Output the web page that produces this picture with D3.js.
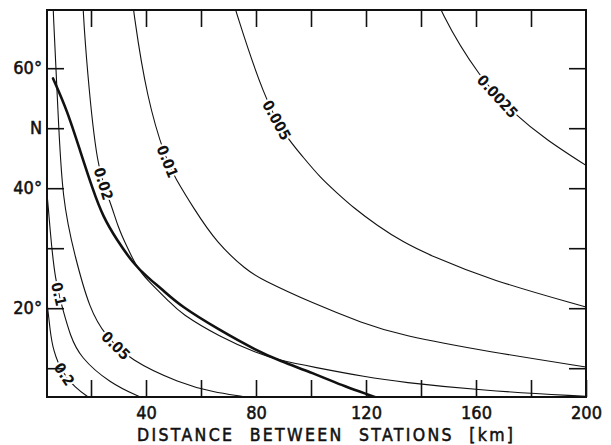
<!DOCTYPE html>
<html>
<head>
<meta charset="utf-8">
<script src="https://cdn.jsdelivr.net/npm/d3@7"></script>
<style>
  body { margin: 0; background: #fff; }
  svg text { font-family: "DejaVu Sans Condensed", "DejaVu Sans", sans-serif; fill: #111; }
</style>
</head>
<body>
<div id="chart"></div>
<script>
//******************************************************************************
//**  data (distance in km, latitude in degrees)
//******************************************************************************
var contourLevels = ["0.0025", "0.005", "0.01", "0.02", "0.05", "0.1", "0.2"];

var c0025 = [[143, 75], [146.5, 69.7], [161.5, 58.2], [174.2, 52.2], [185.8, 48], [200, 43.8]];
var c005  = [[70, 74], [72.4, 69.7], [83.3, 54.7], [90.5, 48.8], [97.1, 45.2], [103.3, 41.8], [109.5, 39.2],
             [115.3, 36.8], [124, 33.8], [133.5, 31], [143.3, 28.8], [165.1, 24.7], [200, 20.2]];
var c01   = [[34.5, 74], [35.3, 69.7], [40.4, 54.7], [47.3, 44.7], [50.5, 41.8], [57.1, 36.8], [65.8, 30.8],
             [76.7, 26.3], [81.5, 24.9], [100.7, 20.8], [118.9, 17.5], [132.4, 15.5], [165.1, 12.7], [200, 10.2]];
var c02   = [[16.8, 74], [17.1, 69.7], [18.5, 60.2], [22.2, 43], [26.9, 38], [29.8, 33.5], [33.1, 30.2], [36.7, 26.8],
             [40.4, 24.7], [48.7, 21], [52.4, 19.2], [66.9, 15.2], [80.4, 12.5], [88.7, 11.3], [100.7, 10.2],
             [120.4, 8.5], [132.4, 7.7], [161.5, 6.3], [200, 5.3]];
var c05   = [[6, 74], [6.2, 69.7], [8, 53], [9.5, 38], [14.2, 28.5], [19.6, 19.7], [25.1, 15.5], [34.2, 11.3],
             [52.4, 7.5], [64.4, 6], [76.7, 5.2], [80, 4.8]];
var c1    = [[2.5, 44], [4, 39.7], [5.1, 33], [6.9, 24.7], [9.8, 19.7], [12.4, 15.5], [16, 11.8], [26.9, 7.5], [37.8, 5.2], [41, 4.7]];
var c2    = [[3, 24], [4, 21.3], [5.1, 16.3], [6.2, 13], [9.5, 9.2], [14.2, 6.8], [18.9, 5.2], [21, 4.6]];
var contourData = [c0025, c005, c01, c02, c05, c1, c2];
var labelAt = [0.55, 0.28, 0.27, 0.26, 0.71, 0.47, 0.7];  // fraction along each curve

var thickCurve = [[6.2, 58.3], [11.3, 53], [16, 46.3], [20.7, 39.7], [24.4, 35.2], [29.5, 31.3], [35.3, 27.5],
                  [40.4, 25.2], [46.2, 23], [52.4, 20.4], [66.9, 16.3], [80.4, 12.9], [88.7, 11.2], [100.7, 9.2],
                  [113.1, 6.8], [121.5, 5.5], [124.4, 5]];

var xTicks = [20, 40, 60, 80, 100, 120, 140, 160, 180, 200];
var xLabels = [40, 80, 120, 160, 200];
var yTicks = [10, 20, 30, 40, 50, 60];
var yLabels = {60: "60°", 50: "N", 40: "40°", 20: "20°"};
var xTitle = "DISTANCE BETWEEN STATIONS [km]";


//******************************************************************************
//**  chart
//******************************************************************************
var width = 611, height = 445;
var plotLeft = 47, plotRight = 586, plotTop = 10, plotBottom = 397;

var svg = d3.select("#chart").append("svg")
    .attr("width", width)
    .attr("height", height);

var x = d3.scaleLinear().domain([4, 200]).range([plotLeft, plotRight]);
var y = d3.scaleLinear().domain([5.2, 69.7]).range([plotBottom, plotTop]);

svg.append("defs").append("clipPath").attr("id", "plot")
  .append("rect")
    .attr("x", plotLeft).attr("y", plotTop)
    .attr("width", plotRight - plotLeft).attr("height", plotBottom - plotTop);

var line = d3.line()
    .x(function(d){ return x(d[0]); })
    .y(function(d){ return y(d[1]); })
    .curve(d3.curveBasis);

var g = svg.append("g").attr("clip-path", "url(#plot)");

// thin contour lines
var paths = [];
contourData.forEach(function(pts){
    var p = g.append("path")
        .attr("d", line(pts))
        .attr("fill", "none")
        .attr("stroke", "#111")
        .attr("stroke-width", 1.1);
    paths.push(p.node());
});

// heavy curve
g.append("path")
    .attr("d", line(thickCurve))
    .attr("fill", "none")
    .attr("stroke", "#111")
    .attr("stroke-width", 2.6)
    .attr("stroke-linecap", "round");

// inline contour labels, the white halo breaks the line
paths.forEach(function(node, i){
    var len = node.getTotalLength();
    var s = len * labelAt[i];
    var p = node.getPointAtLength(s);
    var a = node.getPointAtLength(Math.max(0, s - 5));
    var b = node.getPointAtLength(Math.min(len, s + 5));
    var ang = Math.atan2(b.y - a.y, b.x - a.x) * 180 / Math.PI;
    svg.append("text")
        .attr("transform", "translate(" + p.x + "," + p.y + ") rotate(" + ang + ")")
        .attr("text-anchor", "middle")
        .attr("dy", "0.36em")
        .attr("font-size", 15)
        .attr("font-weight", "bold")
        .attr("stroke", "#fff")
        .attr("stroke-width", 4)
        .attr("paint-order", "stroke")
        .text(contourLevels[i]);
});

// inward ticks on all four sides
var tickLen = 17;
var axisBottom = d3.axisBottom(x).tickValues(xTicks).tickSize(-tickLen).tickPadding(9)
    .tickFormat(function(d){ return xLabels.indexOf(d) >= 0 ? d : ""; });
var axisTop = d3.axisTop(x).tickValues(xTicks.slice(0, -1)).tickSize(-tickLen).tickFormat("");
var axisLeft = d3.axisLeft(y).tickValues(yTicks).tickSize(-tickLen).tickPadding(5)
    .tickFormat(function(d){ return yLabels[d] || ""; });
var axisRight = d3.axisRight(y).tickValues(yTicks).tickSize(-tickLen).tickFormat("");

var axes = [
    [axisBottom, "translate(0," + plotBottom + ")"],
    [axisTop, "translate(0," + plotTop + ")"],
    [axisLeft, "translate(" + plotLeft + ",0)"],
    [axisRight, "translate(" + plotRight + ",0)"]
];
axes.forEach(function(a){
    var ag = svg.append("g").attr("transform", a[1]).call(a[0]);
    ag.select(".domain").remove();
    ag.selectAll(".tick line").attr("stroke", "#111").attr("stroke-width", 1.6);
    ag.selectAll(".tick text")
        .attr("font-size", 18)
        .attr("fill", "#111")
        .attr("stroke", "#111")
        .attr("stroke-width", 0.5)
        .style("font-family", "\"DejaVu Sans Condensed\", sans-serif");
});

// frame
svg.append("rect")
    .attr("x", plotLeft).attr("y", plotTop)
    .attr("width", plotRight - plotLeft).attr("height", plotBottom - plotTop)
    .attr("fill", "none")
    .attr("stroke", "#111")
    .attr("stroke-width", 2);

// axis title
svg.append("text")
    .attr("x", 137)
    .attr("y", 441)
    .attr("font-size", 17.5)
    .attr("stroke", "#111")
    .attr("stroke-width", 0.5)
    .attr("textLength", 376)
    .attr("lengthAdjust", "spacing")
    .style("word-spacing", "8px")
    .text(xTitle);
</script>
</body>
</html>
